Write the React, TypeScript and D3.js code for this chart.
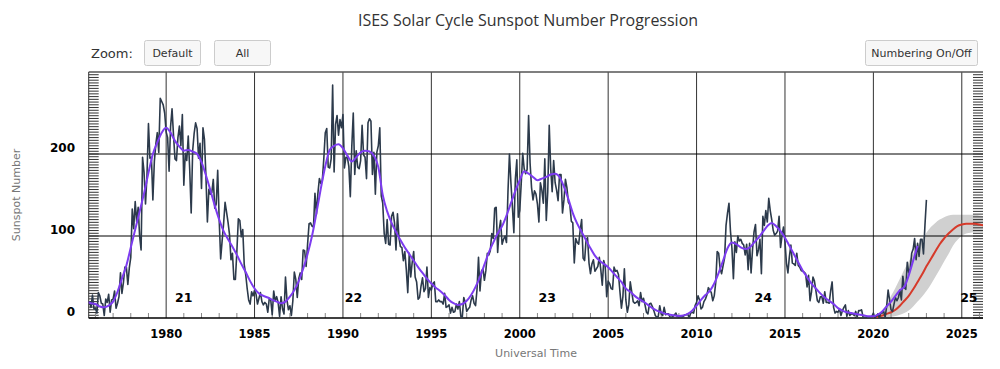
import React from "react";
import * as d3 from "d3";

// monthly mean sunspot number, Sep 1975 onward
const monthly1970s = [
  20, 13, 28, 11,
  12, 6, 31, 27, 18, 17, 3, 23, 19, 29, 7, 22,
  23, 33, 12, 18, 26, 55, 30, 43, 62, 62, 41, 61,
  74, 133, 109, 142, 117, 135, 100, 83, 196, 178, 139, 174,
  237, 195, 196, 144, 191, 212, 226, 202, 268, 264, 260, 250,
];
const monthly1980s = [
  227, 220, 179, 233, 255, 223, 194, 192, 220, 234, 210, 248,
  162, 201, 192, 222, 181, 128, 204, 225, 238, 231, 195, 213,
  158, 232, 218, 173, 117, 157, 151, 153, 169, 134, 139, 180,
  120, 72, 94, 115, 141, 129, 117, 102, 71, 79, 47, 47,
  81, 121, 119, 99, 108, 65, 53, 36, 22, 17, 32, 27,
  34, 29, 17, 24, 31, 20, 16, 19, 17, 7, 24, 22,
  4, 33, 21, 26, 19, 2, 26, 11, 5, 50, 22, 10,
  15, 3, 21, 56, 47, 25, 48, 55, 47, 83, 82, 63,
  90, 115, 116, 112, 111, 152, 127, 152, 170, 164, 168, 194,
  226, 231, 184, 183, 194, 284, 178, 236, 247, 223, 242, 232,
];
const monthly1990s = [
  248, 183, 196, 196, 185, 148, 209, 250, 175, 204, 184, 182,
  192, 235, 199, 196, 170, 238, 243, 240, 175, 202, 151, 202,
  210, 232, 149, 140, 103, 91, 120, 90, 89, 124, 129, 116,
  83, 127, 98, 87, 86, 70, 81, 59, 31, 79, 50, 68,
  81, 50, 44, 23, 25, 39, 49, 32, 36, 62, 25, 37,
  34, 42, 44, 20, 20, 22, 20, 20, 17, 30, 13, 14,
  16, 6, 13, 7, 8, 17, 11, 20, 2, 1, 25, 19,
  8, 11, 13, 22, 27, 18, 15, 35, 74, 33, 57, 60,
  46, 58, 79, 77, 82, 103, 97, 134, 135, 80, 107, 119,
  90, 96, 100, 92, 154, 200, 165, 136, 104, 169, 193, 123,
];
const monthly2000s = [
  131, 164, 201, 182, 176, 181, 247, 189, 159, 144, 155, 151,
  139, 117, 165, 156, 140, 194, 119, 154, 235, 182, 154, 192,
  165, 156, 143, 175, 175, 128, 144, 169, 159, 141, 138, 118,
  116, 67, 97, 92, 90, 107, 120, 73, 70, 95, 98, 67,
  54, 66, 71, 57, 60, 63, 74, 59, 40, 70, 63, 26,
  45, 42, 36, 35, 62, 57, 58, 53, 32, 12, 26, 60,
  22, 7, 16, 44, 32, 20, 18, 19, 21, 15, 31, 20,
  24, 16, 7, 5, 17, 18, 14, 9, 3, 1, 2, 15,
  5, 3, 13, 4, 5, 5, 1, 1, 2, 4, 6, 1,
  2, 2, 1, 2, 4, 4, 5, 0, 6, 7, 6, 15,
];
const monthly2010s = [
  19, 27, 22, 11, 13, 20, 23, 28, 37, 34, 31, 21,
  27, 43, 81, 79, 60, 54, 64, 73, 113, 128, 140, 106,
  85, 48, 93, 80, 100, 94, 96, 91, 89, 77, 90, 59,
  91, 55, 84, 105, 114, 76, 83, 96, 54, 124, 113, 131,
  117, 146, 131, 120, 107, 101, 103, 106, 124, 86, 100, 111,
  93, 67, 55, 75, 89, 67, 66, 64, 79, 64, 62, 58,
  57, 56, 54, 38, 52, 21, 32, 50, 45, 33, 21, 19,
  26, 26, 18, 32, 19, 19, 18, 33, 44, 13, 6, 8,
  7, 11, 3, 9, 13, 16, 2, 9, 3, 5, 5, 3,
  8, 1, 9, 9, 10, 1, 1, 1, 1, 0, 1, 2,
];
const monthly2020s = [
  6, 0, 2, 5, 0, 6, 6, 8, 1, 14, 34, 22,
  10, 8, 17, 25, 21, 25, 34, 22, 51, 37, 35, 68,
  55, 60, 79, 84, 97, 71, 91, 75, 96, 96, 78, 113,
  144,
];
const monthlyStart = 1975 + 8 / 12;

// 13-month smoothed, one value per quarter from mid 1975
const smoothedQuarterly = [
  20, 18,
  17, 14, 13, 15, 20, 32, 48, 64, 86, 108, 130, 152, 177, 200, 214, 226,
  232, 226, 216, 209, 204, 205, 203, 200, 190, 174, 156, 137, 120, 106, 96, 87,
  77, 66, 56, 45, 36, 30, 27, 25, 22, 20, 18, 20, 26, 34, 45, 60,
  78, 100, 128, 158, 185, 205, 210, 212,
  207, 198, 191, 196, 202, 204, 203, 198, 184, 150, 130, 116, 105, 95, 86, 78,
  70, 62, 55, 48, 42, 37, 33, 28, 22, 18, 16, 17, 21, 28, 38, 50,
  65, 80, 92, 103, 112, 125, 140, 155,
  168, 179, 176, 172, 168, 170, 172, 175, 176, 172, 160, 145, 128, 115, 105, 95,
  85, 76, 70, 66, 62, 56, 50, 44, 36, 32, 27, 23, 20, 16, 12, 9,
  7, 5, 4, 3, 2.5, 3, 5, 9,
  15, 22, 28, 33, 42, 55, 70, 85, 92, 90, 86, 84, 86, 92, 98, 105,
  112, 116, 112, 106, 98, 88, 78, 68, 58, 50, 42, 36, 30, 25, 21, 17,
  12, 9, 7, 6, 5, 4, 3, 2,
  2, 4, 8, 14, 20, 27, 34, 38, 52, 70, 88,
];
const smoothedStart = 1975.5;

// cycle 25 prediction, quarterly from 2020
const predicted = [
  1, 1.5, 3, 5, 7, 10, 15, 21, 27, 35, 44, 53, 63, 72, 81, 90,
  97, 103, 108, 112, 114, 115, 115, 115, 114, 113,
];
const predictedHigh = [
  1, 4, 9, 17, 27, 37, 48, 59, 69, 79, 88, 96, 104, 111, 116, 120,
  123, 125, 126, 126, 126, 126, 126, 126, 125, 124,
];
const predictedLow = [
  0, 0, 0.5, 1, 1.5, 2.5, 4, 6, 9, 14, 20, 26, 33, 41, 50, 59,
  69, 78, 88, 95, 100, 103, 104, 105, 105, 105,
];
const predictedStart = 2020;

const xMajorTicks = [1980, 1985, 1990, 1995, 2000, 2005, 2010, 2015, 2020, 2025];
const yTicks = [0, 100, 200];
const cycleLabels = ["21", "22", "23", "24", "25"];
const cycleLabelYears = [1981.0, 1990.6, 2001.55, 2013.77, 2025.4];

const font = "'DejaVu Sans', Verdana, sans-serif";

export default function App() {
  const left = 88.7, right = 983, top = 72, bottom = 318;

  const x = d3.scaleLinear().domain([1975.62, 2026.2]).range([left, right]);
  const y = d3.scaleLinear().domain([0, 300]).range([bottom, top]);

  const monthly = [
    ...monthly1970s, ...monthly1980s, ...monthly1990s,
    ...monthly2000s, ...monthly2010s, ...monthly2020s,
  ].map((v, i) => ({ t: monthlyStart + i / 12, v }));
  const smoothed = smoothedQuarterly.map((v, i) => ({ t: smoothedStart + i / 4, v }));
  const pred = predicted.map((v, i) => ({
    t: predictedStart + i / 4,
    v,
    hi: predictedHigh[i],
    lo: predictedLow[i],
  }));

  const line = d3.line<{ t: number; v: number }>().x((d) => x(d.t)).y((d) => y(d.v));
  const smoothLine = d3
    .line<{ t: number; v: number }>()
    .x((d) => x(d.t))
    .y((d) => y(d.v))
    .curve(d3.curveMonotoneX);
  const band = d3
    .area<{ t: number; hi: number; lo: number }>()
    .x((d) => x(d.t))
    .y0((d) => y(d.lo))
    .y1((d) => y(d.hi))
    .curve(d3.curveMonotoneX);

  const minorYears = d3.range(1976, 2027).filter((yr) => yr % 5 !== 0);
  const yMinor = d3.range(0, 300, 10 / 3);

  return (
    <svg
      width={1000}
      height={369}
      style={{ position: "absolute", left: 0, top: 0, background: "#fff" }}
      fontFamily={font}
    >
      <defs>
        <clipPath id="plotClip">
          <rect x={left} y={top} width={right - left} height={bottom - top} />
        </clipPath>
      </defs>

      <text x={528} y={26} textAnchor="middle" fontSize={16} fill="#333" fontFamily="'Open Sans', sans-serif">
        ISES Solar Cycle Sunspot Number Progression
      </text>

      {/* zoom buttons */}
      <text x={91} y={58} fontSize={13} fill="#333">Zoom:</text>
      <rect x={144.5} y={40.5} width={56} height={25} rx={2} fill="#f7f7f7" stroke="#cccccc" />
      <text x={172.5} y={57} textAnchor="middle" fontSize={11} fill="#333">Default</text>
      <rect x={214.5} y={40.5} width={56} height={25} rx={2} fill="#f7f7f7" stroke="#cccccc" />
      <text x={242.5} y={57} textAnchor="middle" fontSize={11} fill="#333">All</text>
      <rect x={865.5} y={40.5} width={112} height={25} rx={2} fill="#f7f7f7" stroke="#cccccc" />
      <text x={921.5} y={57} textAnchor="middle" fontSize={11} fill="#333">Numbering On/Off</text>

      {/* prediction band under the grid */}
      <g clipPath="url(#plotClip)">
        <path d={band(pred) ?? ""} fill="#d0d0d0" />
      </g>

      {/* grid */}
      {xMajorTicks.map((yr) => (
        <line key={yr} x1={x(yr)} x2={x(yr)} y1={top} y2={bottom} stroke="#333" strokeWidth={1} />
      ))}
      {yTicks.filter((v) => v > 0).map((v) => (
        <line key={v} x1={left} x2={right} y1={y(v)} y2={y(v)} stroke="#000" strokeWidth={1} />
      ))}

      {/* dense minor ticks on both sides */}
      {yMinor.map((v, i) => (
        <g key={i}>
          <line x1={left} x2={left + 10} y1={y(v)} y2={y(v)} stroke="#333" strokeWidth={1} />
          <line x1={right - 10} x2={right} y1={y(v)} y2={y(v)} stroke="#333" strokeWidth={1} />
        </g>
      ))}
      {minorYears.map((yr) => (
        <line key={yr} x1={x(yr)} x2={x(yr)} y1={bottom - 5} y2={bottom} stroke="#888" strokeWidth={1} />
      ))}

      {/* frame */}
      <line x1={left} x2={right} y1={top} y2={top} stroke="#555" strokeWidth={1.5} />
      <line x1={left} x2={left} y1={top} y2={bottom} stroke="#333" strokeWidth={1} />
      <line x1={left} x2={right} y1={bottom} y2={bottom} stroke="#000" strokeWidth={1.5} />

      {/* series */}
      <g clipPath="url(#plotClip)">
        <path d={smoothLine(pred) ?? ""} fill="none" stroke="#d63a2a" strokeWidth={2} />
        <path d={line(monthly) ?? ""} fill="none" stroke="#2c3a4b" strokeWidth={1.6} strokeLinejoin="round" />
        <path d={smoothLine(smoothed) ?? ""} fill="none" stroke="#7d3cf0" strokeWidth={2} />
      </g>

      {/* cycle numbers */}
      {cycleLabels.map((c, i) => (
        <text
          key={c}
          x={x(cycleLabelYears[i])}
          y={298}
          dy="0.35em"
          textAnchor="middle"
          fontSize={12.5}
          fontWeight="bold"
          fill="#000"
        >
          {c}
        </text>
      ))}

      {/* axis labels */}
      {yTicks.map((v) => (
        <text key={v} x={75} y={y(v) - 6} dy="0.35em" textAnchor="end" fontSize={12} fontWeight="bold" fill="#000">
          {v}
        </text>
      ))}
      {xMajorTicks.map((yr) => (
        <text key={yr} x={x(yr)} y={334} dy="0.35em" textAnchor="middle" fontSize={11.5} fontWeight="bold" fill="#000">
          {yr}
        </text>
      ))}
      <text
        transform="translate(16,195) rotate(-90)"
        dy="0.35em"
        textAnchor="middle"
        fontSize={11}
        fill="#777"
      >
        Sunspot Number
      </text>
      <text x={536} y={353} dy="0.35em" textAnchor="middle" fontSize={11} fill="#777">
        Universal Time
      </text>
    </svg>
  );
}
